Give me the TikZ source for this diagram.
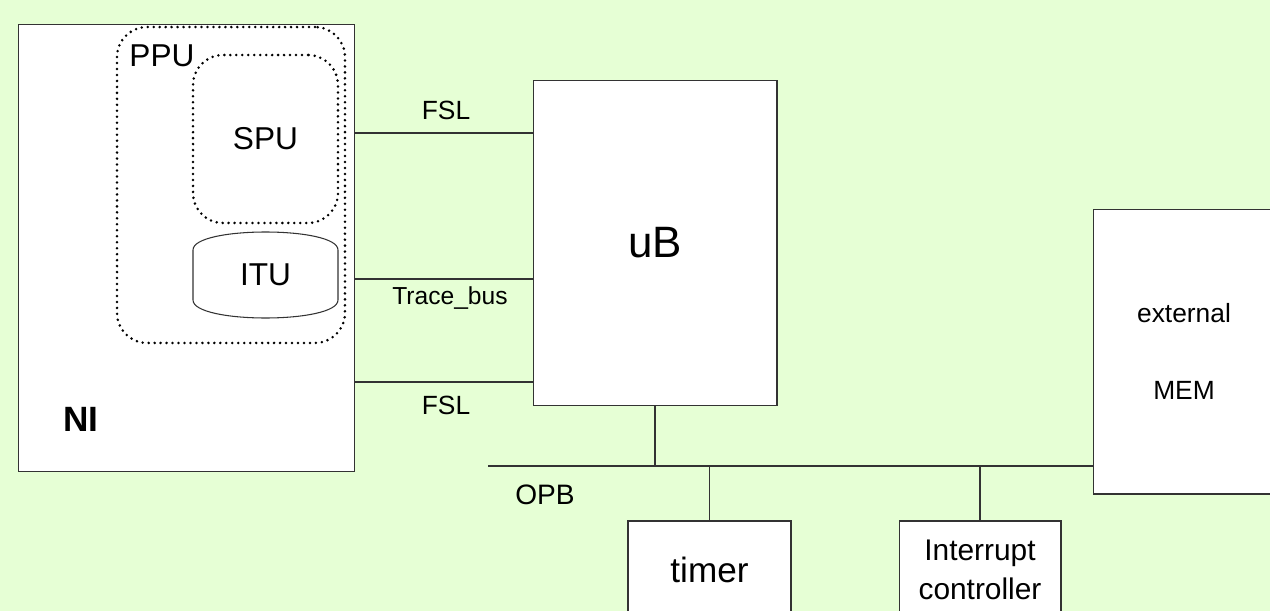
\documentclass[tikz,border=0pt]{standalone}
\usepackage{fontspec}
\setmainfont{Liberation Sans}
\usepackage{tikz}
\usetikzlibrary{positioning}
\definecolor{Paper}{HTML}{E6FFD5}
\definecolor{Wire}{HTML}{333333}

\begin{document}
\begin{tikzpicture}[x=0.02cm, y=-0.02cm, every node/.style={font=\fontsize{15}{18}\selectfont}]
    \tikzstyle{block}=[draw=Wire, fill=white, line width=0.6pt, inner sep=0pt]
    \tikzstyle{unit}=[draw=black, line width=1.6pt, line cap=round, dash pattern=on 0pt off 3.4pt, rounded corners=0.6cm, inner sep=0pt]
    \tikzstyle{wire}=[draw=Wire, line width=0.6pt]
    \clip (0,0) rectangle (1270,611);
    \fill[Paper] (0,0) rectangle (1270,611);
    % boxes
    \node[block, minimum width=6.74cm, minimum height=8.96cm] (ni) at (186.5,248) {};
    \node[font=\fontsize{20}{24}\selectfont\bfseries] (nilabel) at (81,419) {NI};
    \node[unit, minimum width=4.56cm, minimum height=6.32cm] (ppu) at (231,185) {};
    \node[font=\fontsize{18}{22}\selectfont] (ppulabel) at (162,56) {PPU};
    \node[unit, minimum width=2.9cm, minimum height=3.36cm, font=\fontsize{18}{22}\selectfont] (spu) at (265.5,139) {SPU};
    \draw[draw=Wire, line width=0.6pt] (193,250) .. controls (193,226) and (338,226) .. (338,250)
        -- (338,300) .. controls (338,324) and (193,324) .. (193,300) -- cycle;
    \node[font=\fontsize{18}{22}\selectfont] (itu) at (265.5,275) {ITU};
    \node[block, minimum width=4.88cm, minimum height=6.52cm, font=\fontsize{25}{30}\selectfont] (ub) at (655,243) {uB};
    \node[block, minimum width=3.64cm, minimum height=5.7cm, align=center, font=\fontsize{15}{44}\selectfont] (mem) at (1184,351.5) {external\\MEM};
    \node[block, minimum width=3.26cm, minimum height=1.96cm, font=\fontsize{20}{24}\selectfont] (timer) at (709.5,570) {timer};
    \node[block, minimum width=3.24cm, minimum height=1.96cm, align=center, font=\fontsize{17}{22}\selectfont] (irq) at (980,570) {Interrupt\\controller};
    % buses
    \coordinate (fsla) at (0,133);
    \coordinate (trace) at (0,279);
    \coordinate (fslb) at (0,382);
    \coordinate (opb) at (488,466);
    \draw[wire] (ni.east |- fsla) -- (ub.west |- fsla);
    \draw[wire] (ni.east |- trace) -- (ub.west |- trace);
    \draw[wire] (ni.east |- fslb) -- (ub.west |- fslb);
    \draw[wire] (opb) -- (mem.west |- opb);
    \draw[wire] (ub.south) -- (ub.south |- opb);
    \draw[wire] (timer.north) -- (timer.north |- opb);
    \draw[wire] (irq.north) -- (irq.north |- opb);
    \node (fslalabel) at (446,110) {FSL};
    \node[font=\fontsize{14}{17}\selectfont] (tracelabel) at (450,298) {Trace\_bus};
    \node (fslblabel) at (446,405) {FSL};
    \node[font=\fontsize{16}{19}\selectfont] (opblabel) at (545,495) {OPB};
\end{tikzpicture}
\end{document}
